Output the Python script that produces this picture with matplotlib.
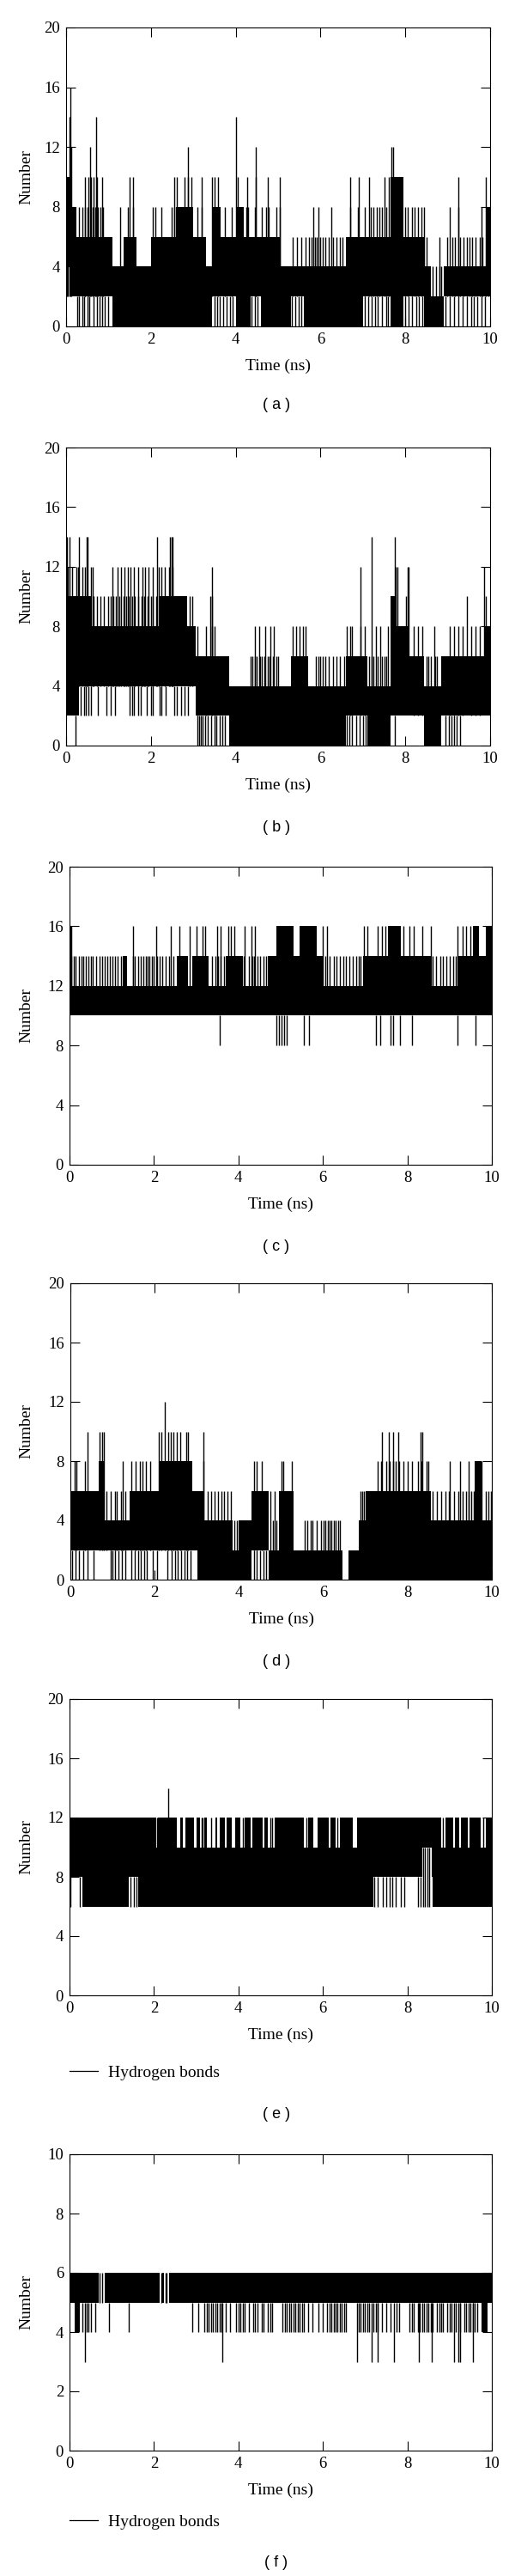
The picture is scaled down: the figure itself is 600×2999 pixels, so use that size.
import matplotlib
matplotlib.use("Agg")
import matplotlib.pyplot as plt
from matplotlib.lines import Line2D

plt.rcParams['font.family'] = ['Liberation Serif', 'DejaVu Serif']

# hydrogen-bond count traces, read off the figure as solid bands
# (t0, t1, low, high) plus single frames drawn as vertical strokes (low, high, times)

a_bands = [(0.00, 0.15, 4, 10), (0.15, 0.25, 2, 8), (0.25, 1.10, 2, 6), (1.10, 1.35, 0, 4),
           (1.35, 1.65, 0, 6), (1.65, 2.00, 0, 4), (2.00, 3.30, 0, 6), (2.60, 3.00, 6, 8),
           (3.30, 3.45, 0, 4), (3.45, 3.65, 2, 8), (3.65, 4.00, 2, 6), (4.00, 4.35, 0, 6),
           (4.00, 4.20, 6, 8), (4.35, 4.60, 2, 6), (4.60, 5.05, 0, 6), (5.05, 5.30, 0, 4),
           (5.30, 5.60, 2, 4), (5.60, 6.60, 0, 4), (6.60, 7.00, 0, 6), (7.00, 7.65, 2, 6),
           (7.65, 7.95, 0, 10), (7.95, 8.45, 2, 6), (8.45, 8.60, 0, 4), (8.60, 8.90, 0, 2),
           (8.90, 9.90, 2, 4), (9.90, 10.0, 2, 8)]
a_lines = [
    (0, 2, [0.27, 0.30, 0.38, 0.42, 0.50, 0.55, 0.65, 0.72, 0.78, 0.85, 0.92, 1.00, 3.50, 3.56,
            3.62, 3.70, 3.78, 3.86, 3.93, 4.38, 4.45, 4.52, 5.33, 5.40, 5.48, 5.55, 7.05, 7.12,
            7.20, 7.28, 7.35, 7.45, 7.55, 7.60, 8.00, 8.08, 8.15, 8.25, 8.32, 8.40, 8.95, 9.05,
            9.15, 9.25, 9.35, 9.45, 9.55, 9.62, 9.70, 9.80, 9.87]),
    (2, 8, [0.30, 0.38, 0.45, 0.50, 0.62, 0.68, 0.75, 0.80, 0.88, 1.28, 1.45, 1.58, 2.05, 2.10,
            2.25, 2.48, 2.55, 3.10, 3.20, 3.75, 3.90, 4.25, 4.30, 4.45, 4.62, 4.72, 4.78, 4.95,
            5.05, 5.82, 5.95, 6.25, 6.70, 6.88, 7.05, 7.18, 7.25, 7.32, 7.38, 7.45, 7.55, 8.00,
            8.05, 8.15, 8.22, 8.30, 8.38, 8.45, 9.05, 9.25, 9.80, 9.95]),
    (2, 10, [0.02, 0.05, 0.45, 0.52, 0.58, 0.65, 0.72, 0.85, 1.50, 1.57, 2.55, 2.62, 2.80, 2.88,
             2.95, 3.20, 3.45, 3.50, 3.58, 4.05, 4.28, 4.48, 4.75, 5.05, 6.70, 6.90, 7.15, 7.50,
             7.62, 9.25, 9.90]),
    (2, 12, [0.12, 0.57, 2.87, 4.47, 7.68, 7.72]),
    (2, 14, [0.08, 0.70, 4.00]),
    (2, 16, [0.11]),
    (2, 6, [5.35, 5.45, 5.55, 5.65, 5.72, 5.78, 5.88, 5.92, 6.00, 6.05, 6.12, 6.20, 6.30, 6.38,
            6.45, 6.52, 8.50, 8.80, 8.98, 9.10, 9.18, 9.30, 9.38, 9.45, 9.52, 9.58, 9.65, 9.75,
            9.82]),
    (0, 4, [8.65, 8.72, 8.80, 8.85]),
]

b_bands = [(0.00, 0.30, 2, 10), (0.30, 3.05, 4, 8), (0.30, 0.60, 8, 10), (2.20, 2.85, 8, 10),
           (3.05, 3.85, 2, 6), (3.85, 5.30, 0, 4), (5.30, 5.70, 0, 6), (5.70, 6.60, 0, 4),
           (6.60, 7.10, 2, 6), (7.10, 7.65, 0, 4), (7.65, 7.80, 2, 10), (7.80, 8.10, 2, 8),
           (8.10, 8.45, 2, 6), (8.45, 8.85, 0, 4), (8.85, 9.85, 2, 6), (9.85, 10.0, 2, 8)]
b_lines = [
    (2, 4, [0.35, 0.42, 0.47, 0.53, 0.58, 0.75, 0.95, 1.05, 1.15, 1.50, 1.55, 1.60, 1.70, 1.76,
            1.90, 2.00, 2.05, 2.20, 2.25, 2.35, 2.55, 2.62, 2.72, 2.80, 2.88]),
    (0, 2, [0.22, 3.10, 3.14, 3.18, 3.22, 3.28, 3.35, 3.42, 3.50, 3.55, 3.62, 3.68, 3.75, 6.62,
            6.68, 6.75, 6.85, 6.92, 7.00, 7.06, 7.75, 8.95, 9.02, 9.08, 9.15, 9.22, 9.30]),
    (4, 10, [0.65, 0.72, 0.80, 0.90, 1.00, 1.05, 1.12, 1.18, 1.25, 1.35, 1.42, 1.48, 1.56, 1.62,
             1.70, 1.78, 1.85, 1.92, 2.00, 2.05, 2.12, 2.92, 2.98, 3.40, 3.45, 7.70, 8.02, 9.45,
             9.90]),
    (4, 12, [0.05, 0.15, 0.25, 0.28, 0.38, 0.45, 0.58, 0.62, 1.10, 1.22, 1.30, 1.38, 1.45, 1.52,
             1.60, 1.70, 1.80, 1.87, 1.95, 2.05, 2.18, 2.25, 2.33, 2.42, 2.50, 3.45, 6.95, 7.78,
             7.82, 8.05, 8.08, 9.85]),
    (4, 14, [0.02, 0.08, 0.30, 0.48, 0.50, 2.15, 2.45, 2.48, 2.50, 7.20, 7.75]),
    (2, 8, [3.10, 3.30, 3.45, 3.50, 4.45, 4.55, 4.70, 4.82, 4.90, 5.35, 5.42, 5.50, 5.58, 5.65,
            6.62, 6.70, 6.75, 6.95, 7.05, 7.30, 7.40, 7.60, 8.20, 8.30, 8.40, 8.68, 9.05, 9.15,
            9.25, 9.35, 9.55, 9.65, 9.75]),
    (2, 6, [4.35, 4.40, 4.45, 4.50, 4.58, 4.62, 4.68, 4.75, 4.80, 4.88, 4.95, 5.00, 5.90, 5.95,
            6.00, 6.05, 6.12, 6.20, 6.30, 6.38, 6.45, 6.55, 7.15, 7.20, 7.25, 7.35, 7.45, 7.50,
            7.55, 8.50, 8.55, 8.60, 8.70, 8.75]),
]

c_bands = [(0.00, 10.0, 10, 12), (0.00, 0.05, 10, 16), (1.25, 1.37, 12, 14), (2.55, 2.80, 12, 14),
           (2.90, 3.30, 12, 14), (3.70, 4.10, 12, 14), (4.70, 6.00, 12, 14), (4.90, 5.30, 14, 16),
           (5.45, 5.85, 14, 16), (6.95, 8.55, 12, 14), (7.55, 7.85, 14, 16), (9.20, 10.0, 12, 14),
           (9.55, 9.70, 14, 16), (9.85, 10.0, 14, 16)]
c_lines = [
    (12, 14, [0.05, 0.10, 0.14, 0.22, 0.28, 0.33, 0.38, 0.44, 0.50, 0.55, 0.62, 0.72, 0.78, 0.84,
              0.90, 0.95, 1.02, 1.08, 1.14, 1.22, 1.50, 1.55, 1.62, 1.68, 1.75, 1.80, 1.84, 1.90,
              1.95, 2.00, 2.08, 2.14, 2.20, 2.28, 2.35, 2.45, 3.38, 3.45, 3.52, 3.58, 3.65, 4.12,
              4.25, 4.32, 4.38, 4.45, 4.52, 4.60, 4.65, 6.05, 6.15, 6.25, 6.32, 6.40, 6.48, 6.55,
              6.62, 6.70, 6.78, 6.85, 6.90, 8.60, 8.68, 8.78, 8.85, 8.92, 9.00, 9.08, 9.15]),
    (12, 16, [0.05, 1.50, 2.05, 2.40, 2.60, 2.85, 3.00, 3.15, 3.22, 3.50, 3.58, 3.75, 3.82, 3.90,
              4.15, 4.30, 4.40, 6.00, 6.10, 6.98, 7.05, 7.30, 7.40, 7.48, 7.90, 8.05, 8.15, 8.35,
              8.55, 9.18, 9.30, 9.40, 9.50]),
    (8, 10, [3.55, 4.90, 4.95, 5.02, 5.08, 5.14, 5.55, 5.68, 7.25, 7.35, 7.60, 7.66, 7.82, 8.10,
             9.18, 9.62]),
]

d_bands = [(0.00, 0.80, 2, 6), (0.68, 0.82, 6, 8), (0.80, 1.40, 2, 4), (1.40, 2.10, 2, 6),
           (2.10, 2.90, 2, 8), (2.90, 3.15, 2, 6), (3.02, 3.15, 0, 2), (3.15, 3.85, 0, 4),
           (3.85, 4.00, 0, 2), (4.00, 4.30, 0, 4), (4.30, 4.70, 2, 6), (4.70, 4.95, 0, 2),
           (4.95, 5.30, 0, 6), (5.30, 6.45, 0, 2), (6.60, 6.85, 0, 2), (6.85, 10.0, 0, 4),
           (7.00, 8.55, 4, 6), (9.60, 9.75, 4, 8)]
d_lines = [
    (0, 2, [0.05, 0.12, 0.20, 0.30, 0.40, 0.55, 0.95, 1.00, 1.05, 1.15, 1.22, 1.30, 1.45, 1.52,
            1.60, 1.68, 1.75, 1.82, 1.95, 2.05, 2.30, 2.40, 2.48, 2.55, 2.62, 2.70, 2.78, 2.85,
            4.35, 4.42, 4.50, 4.58, 4.65]),
    (2, 8, [0.10, 0.15, 0.35, 1.25, 1.45, 1.55, 1.65, 1.72, 1.80, 1.90, 3.15, 4.35, 4.42, 4.55,
            5.00, 5.05, 5.25, 7.30, 7.38, 7.50, 7.58, 7.65, 7.72, 7.80, 7.90, 8.00, 8.10, 8.25,
            8.32, 8.45, 8.50, 9.00, 9.25, 9.45, 9.65, 9.70, 9.75]),
    (2, 10, [0.40, 0.70, 0.75, 0.80, 2.10, 2.15, 2.32, 2.38, 2.45, 2.52, 2.60, 2.75, 2.80, 3.15,
             7.40, 7.55, 7.65, 7.78, 8.30, 8.35]),
    (2, 12, [2.25]),
    (2, 6, [0.85, 0.95, 1.05, 1.10, 1.20, 1.30, 3.25, 3.35, 3.42, 3.50, 3.58, 3.65, 3.72, 3.80,
            4.75, 4.85, 6.88, 6.92, 6.96, 8.60, 8.70, 8.80, 8.90, 8.98, 9.10, 9.20, 9.30, 9.38,
            9.45, 9.52, 9.58, 9.85, 9.92, 9.98]),
    (0, 4, [3.88, 3.95, 4.80, 4.88, 5.55, 5.62, 5.70, 5.75, 5.85, 5.95, 6.00, 6.05, 6.10, 6.15,
            6.20, 6.25, 6.30, 6.35, 6.40]),
]

e_bands = [(0.00, 8.35, 8, 10), (8.58, 10.0, 8, 10),
           (0.30, 1.33, 6, 8), (1.33, 1.40, 6, 8), (1.62, 7.20, 6, 8), (8.60, 10.0, 6, 8),
           (0.00, 2.05, 10, 12), (2.10, 2.55, 10, 12), (2.62, 2.68, 10, 12), (2.75, 2.95, 10, 12),
           (3.00, 3.08, 10, 12), (3.20, 3.25, 10, 12), (3.45, 3.50, 10, 12), (3.56, 3.68, 10, 12),
           (3.72, 3.85, 10, 12), (3.92, 4.05, 10, 12), (4.15, 4.28, 10, 12), (4.32, 4.58, 10, 12),
           (4.62, 4.70, 10, 12), (4.85, 5.55, 10, 12), (5.65, 5.78, 10, 12), (5.87, 6.13, 10, 12),
           (6.17, 6.30, 10, 12), (6.40, 6.70, 10, 12), (6.80, 8.80, 10, 12), (8.90, 9.08, 10, 12),
           (9.12, 9.23, 10, 12), (9.27, 9.43, 10, 12), (9.47, 9.74, 10, 12), (9.86, 10.0, 10, 12)]
e_lines = [
    (10, 12, [2.07, 3.12, 3.15, 3.35, 4.10, 4.75, 4.80, 5.60, 6.35, 8.85, 9.80]),
    (6, 8, [0.03, 0.25, 1.45, 1.52, 1.58, 7.22, 7.30, 7.42, 7.50, 7.58, 7.65, 7.73, 7.85, 7.92,
            8.25, 8.32]),
    (6, 10, [8.38, 8.42, 8.47, 8.52]),
    (8, 14, [2.33]),
]

f_bands = [(0.00, 0.70, 5, 6), (0.83, 2.13, 5, 6), (2.20, 2.24, 5, 6), (2.36, 10.0, 5, 6),
           (0.12, 0.25, 4, 5), (9.75, 9.90, 4, 5)]
f_lines = [
    (4, 5, [0.30, 0.40, 0.45, 0.50, 0.60, 0.94, 1.40, 2.90, 3.05, 3.20, 3.25, 3.30, 3.35, 3.40,
            3.45, 3.50, 3.55, 3.60, 3.70, 3.80, 3.95, 4.00, 4.05, 4.10, 4.15, 4.25, 4.35, 4.40,
            4.45, 4.55, 4.60, 4.70, 4.75, 4.80, 5.05, 5.10, 5.15, 5.20, 5.25, 5.30, 5.35, 5.40,
            5.45, 5.50, 5.55, 5.65, 5.75, 5.90, 6.00, 6.10, 6.15, 6.20, 6.25, 6.30, 6.35, 6.40,
            6.45, 6.50, 6.55, 6.85, 6.90, 6.95, 7.00, 7.05, 7.10, 7.20, 7.25, 7.30, 7.40, 7.50,
            7.60, 7.75, 7.80, 8.05, 8.10, 8.15, 8.25, 8.30, 8.35, 8.40, 8.45, 8.50, 8.55, 8.60,
            8.70, 8.75, 8.80, 8.85, 8.95, 9.00, 9.05, 9.15, 9.25, 9.35, 9.40, 9.45, 9.50, 9.55,
            9.60, 9.65]),
    (3, 5, [0.37, 3.62, 6.80, 7.15, 7.30, 7.68, 8.28, 8.58, 9.10, 9.20, 9.25, 9.55]),
    (5, 6, [0.72, 0.78, 2.17, 2.27, 2.30]),
]

panels = [a_bands, b_bands, c_bands, d_bands, e_bands, f_bands]
panel_lines = [a_lines, b_lines, c_lines, d_lines, e_lines, f_lines]
letters = ['a', 'b', 'c', 'd', 'e', 'f']
y_max = [20, 20, 20, 20, 20, 10]
y_step = [4, 4, 4, 4, 4, 2]
has_legend = [False, False, False, False, True, True]

# pixel boxes (left, top, right, bottom) and caption / label rows
boxes = [(77, 32, 571, 380), (77, 521, 571, 868), (81, 1009, 573, 1356),
         (82, 1494, 573, 1839), (81, 1978, 573, 2323), (81, 2508, 573, 2853)]
caption_y = [472, 964, 1452, 1935, 2462, 2983]
legend_y = [None, None, None, None, 2413, 2936]

W, H = 600, 2999
fig = plt.figure(figsize=(W / 100, H / 100), dpi=100)

for i in range(6):
    l, t, r, b = boxes[i]
    ax = fig.add_axes([l / W, 1 - b / H, (r - l) / W, (b - t) / H])
    bands = panels[i]
    ax.bar([s[0] for s in bands], [s[3] - s[2] for s in bands],
           width=[s[1] - s[0] for s in bands], bottom=[s[2] for s in bands],
           align='edge', color='black', linewidth=0)
    for lo, hi, times in panel_lines[i]:
        ax.vlines(times, lo, hi, color='black', linewidth=1.0)

    ax.set_xlim(0, 10)
    ax.set_ylim(0, y_max[i])
    ax.set_xticks(range(0, 11, 2))
    ax.set_yticks(range(0, y_max[i] + 1, y_step[i]))
    ax.tick_params(direction='in', length=8, width=0.8, top=True, right=True,
                   labelsize=13.5, pad=5)
    for s in ax.spines.values():
        s.set_linewidth(0.8)

    ax.set_xlabel('Time (ns)', fontsize=14)
    ax.set_ylabel('Number', fontsize=14)
    ax.xaxis.set_label_coords(0.5, -46 / (b - t))
    ax.xaxis.label.set_verticalalignment('center')
    ax.yaxis.set_label_coords(-(l - 31) / (r - l), 0.5)
    ax.yaxis.label.set_verticalalignment('center')

    if has_legend[i]:
        handle = Line2D([], [], color='black', linewidth=0.9)
        ax.legend([handle], ['Hydrogen bonds'], loc='center left',
                  bbox_to_anchor=(0, -(legend_y[i] - b) / (b - t)),
                  frameon=False, fontsize=14, handlelength=1.7, handletextpad=0.6,
                  borderpad=0, borderaxespad=0)

    fig.text(322 / W, 1 - caption_y[i] / H, '( ' + letters[i] + ' )',
             ha='center', va='center', fontsize=13, family=['Liberation Sans', 'DejaVu Sans'])

fig.savefig('out.png', dpi=100)
